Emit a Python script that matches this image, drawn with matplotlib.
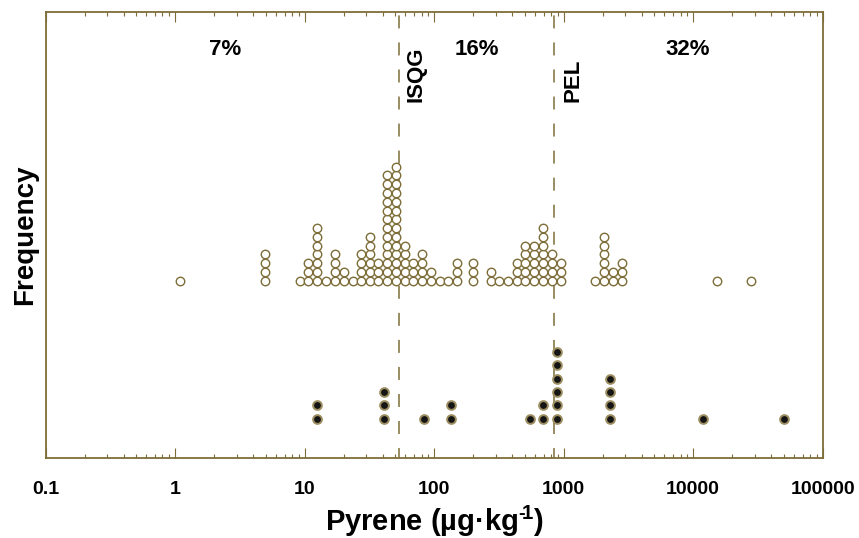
import numpy as np
import matplotlib
matplotlib.use("Agg")
import matplotlib.pyplot as plt

# pyrene concentration bins (ug/kg) and number of samples stacked in each bin
open_conc = [1.09, 4.95, 9.23, 10.6, 12.5, 14.7, 17.2, 20.2, 23.7, 27.3, 32.0, 37.0,
             43.4, 50.9, 59.7, 68.8, 80.8, 94.8, 111, 128, 150, 200, 276, 318, 373,
             437, 504, 592, 694, 815, 956, 1751, 2055, 2411, 2829, 15320, 28170]
open_count = [1, 4, 1, 3, 7, 1, 4, 2, 1, 4, 6, 3,
              13, 14, 5, 3, 4, 2, 1, 1, 3, 3, 2, 1, 1,
              3, 5, 5, 7, 4, 3, 1, 6, 2, 3, 1, 1]

filled_conc = [12.5, 41.1, 83.7, 135, 551, 694, 891, 2286, 11950, 50430]
filled_count = [2, 3, 1, 2, 1, 2, 6, 4, 1, 1]

ISQG = 54.0
PEL = 850.0
region_labels = ["7%", "16%", "32%"]
region_xfrac = [0.2305, 0.5545, 0.826]

OLIVE = "#7d6d38"
FONT = "Liberation Sans"

plt.rcParams["font.family"] = [FONT, "DejaVu Sans"]
plt.rcParams["font.weight"] = "bold"
plt.rcParams["mathtext.fontset"] = "custom"
plt.rcParams["mathtext.rm"] = FONT + ":bold"
plt.rcParams["mathtext.bf"] = FONT + ":bold"
plt.rcParams["mathtext.default"] = "bf"

fig = plt.figure(figsize=(8.59, 5.38), dpi=100)
ax = fig.add_axes([0.053, 0.1493, 0.9047, 0.8293])

# stacked dot rows (y in screen-like units, axis hidden)
open_base, open_step = 177, 8.77
filled_base, filled_step = 39, 13.3

for c, n in zip(open_conc, open_count):
    ys = open_base + open_step * np.arange(n)
    ax.plot([c] * n, ys, "o", ls="none", ms=6.1, mfc="white",
            mec=OLIVE, mew=1.0, zorder=3)

for c, n in zip(filled_conc, filled_count):
    ys = filled_base + filled_step * np.arange(n)
    ax.plot([c] * n, ys, "o", ls="none", ms=6.3, mfc="#151515",
            mec="#9d8f62", mew=1.4, zorder=3)

for g in (ISQG, PEL):
    ax.axvline(g, color=OLIVE, lw=1.1, ls=(2, (8.5, 9.2)), zorder=2)

ax.annotate("ISQG", xy=(ISQG, 0.797), xycoords=("data", "axes fraction"),
            xytext=(12, 0), textcoords="offset points", rotation=90,
            ha="center", va="bottom", fontsize=16, fontweight="bold")
ax.annotate("PEL", xy=(PEL, 0.797), xycoords=("data", "axes fraction"),
            xytext=(13, 0), textcoords="offset points", rotation=90,
            ha="center", va="bottom", fontsize=16, fontweight="bold")

for lab, xf in zip(region_labels, region_xfrac):
    ax.text(xf, 0.914, lab, transform=ax.transAxes, ha="center", va="center",
            fontsize=16, fontweight="bold")

ax.set_xscale("log")
ax.set_xlim(0.1, 100000)
ax.set_ylim(0, 446.2)
ax.set_xticks([0.1, 1, 10, 100, 1000, 10000, 100000])
ax.set_xticklabels(["0.1", "1", "10", "100", "1000", "10000", "100000"])
ax.xaxis.set_minor_locator(matplotlib.ticker.LogLocator(base=10, subs=np.arange(2, 10)))
ax.xaxis.set_minor_formatter(matplotlib.ticker.NullFormatter())
ax.tick_params(axis="x", which="both", direction="in", top=True, color=OLIVE,
               labelsize=14, pad=17)
ax.tick_params(axis="x", which="major", length=7.2, width=0.8)
ax.tick_params(axis="x", which="minor", length=3.2, width=0.8)
ax.set_yticks([])

for sp in ax.spines.values():
    sp.set_color(OLIVE)
    sp.set_linewidth(1.3)

ax.set_xlabel("Pyrene (µg·kg$^{\u2010\\!1}$)", fontsize=21, fontweight="bold", labelpad=4)
ax.set_ylabel("Frequency", fontsize=20, fontweight="bold", labelpad=5)

fig.savefig("out.png", dpi=100)
